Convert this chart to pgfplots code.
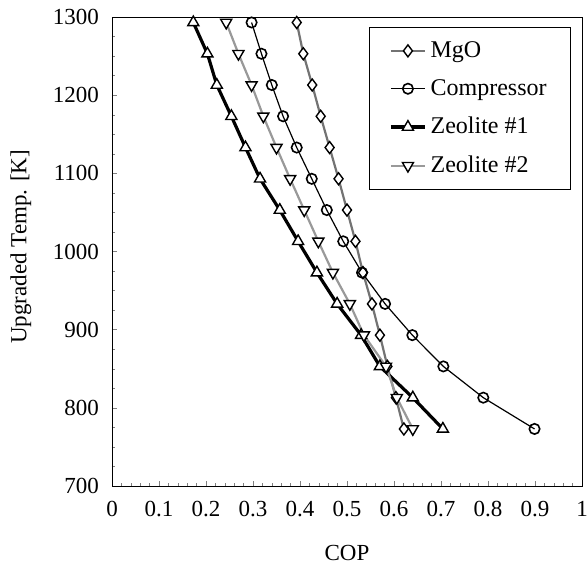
\documentclass[border=0pt]{standalone}
\usepackage{fontspec}
\setmainfont{Liberation Serif}
\usepackage{pgfplots}
\pgfplotsset{compat=1.18}
\usetikzlibrary{calc}

\begin{document}
\begin{tikzpicture}
\begin{axis}[name=ax,
  scale only axis,width=235pt,height=234.5pt,
  font=\fontsize{11.5}{13}\selectfont,
  /pgf/number format/assume math mode=true,
  /pgf/number format/set thousands separator={},
  xmin=0,xmax=1,ymin=700,ymax=1300,
  xtick={0,0.1,...,1},ytick={700,800,...,1300},
  xticklabels={0,0.1,0.2,0.3,0.4,0.5,0.6,0.7,0.8,0.9,1},
  minor x tick num=4,minor y tick num=3,
  tick align=inside,xtick pos=bottom,ytick pos=left,
  major tick length=2.5pt,minor tick length=1.3pt,
  xticklabel style={yshift=-4pt},
  yticklabel style={xshift=-3pt},
  xlabel={COP},ylabel={Upgraded Temp. [K]},
  xlabel style={at={(axis description cs:0.5,-0.143)},anchor=center},
  ylabel style={at={(axis description cs:-0.194,0.51)},anchor=center},
  legend style={at={(1,1)},anchor=north east,xshift=-5.5pt,yshift=-5pt,
    draw=black,inner xsep=10pt,inner ysep=5pt,row sep=5.5pt,
    font=\fontsize{12}{13}\selectfont},
  legend cell align=left]
  % MgO
  \addplot[black!55,line width=1.1pt,mark=diamond*,mark size=3pt,
    mark options={solid,fill=white,draw=black,line width=0.7pt}] coordinates {
    (0.393,1293)(0.407,1253)(0.426,1213)(0.444,1173)(0.463,1133)(0.482,1093)(0.500,1053)
    (0.518,1013)(0.534,973)(0.553,933)(0.570,893)(0.586,853)(0.604,813)(0.621,773)};
  % Compressor
  \addplot[black,line width=0.6pt,mark=o,mark size=2.6pt,
    mark options={solid,fill=white,draw=black,line width=0.8pt}] coordinates {
    (0.297,1293)(0.318,1253)(0.340,1213)(0.364,1173)(0.393,1133)(0.425,1093)(0.457,1053)
    (0.492,1013)(0.532,973)(0.581,933)(0.639,893)(0.705,853)(0.790,813)(0.899,773)};
  % Zeolite #1
  \addplot[black,line width=1.6pt,mark=triangle*,mark size=3.2pt,
    mark options={solid,fill=white,draw=black,line width=0.7pt}] coordinates {
    (0.173,1293)(0.203,1253)(0.223,1213)(0.254,1173)(0.284,1133)(0.315,1093)(0.357,1053)
    (0.396,1013)(0.436,973)(0.479,933)(0.530,893)(0.570,853)(0.640,813)(0.704,773)};
  % Zeolite #2
  \addplot[black!40,line width=1.1pt,mark=triangle*,mark size=3.2pt,
    mark options={rotate=180,solid,fill=white,draw=black,line width=0.7pt}] coordinates {
    (0.243,1293)(0.269,1253)(0.297,1213)(0.322,1173)(0.350,1133)(0.379,1093)(0.409,1053)
    (0.439,1013)(0.470,973)(0.506,933)(0.536,893)(0.583,853)(0.606,813)(0.640,773)};
  \legend{MgO,Compressor,Zeolite \#1,Zeolite \#2}
\end{axis}
\pgfresetboundingbox
\path ($(ax.south west)+(-56pt,-40pt)$) rectangle ++(293.5pt,283pt);
\end{tikzpicture}
\end{document}
